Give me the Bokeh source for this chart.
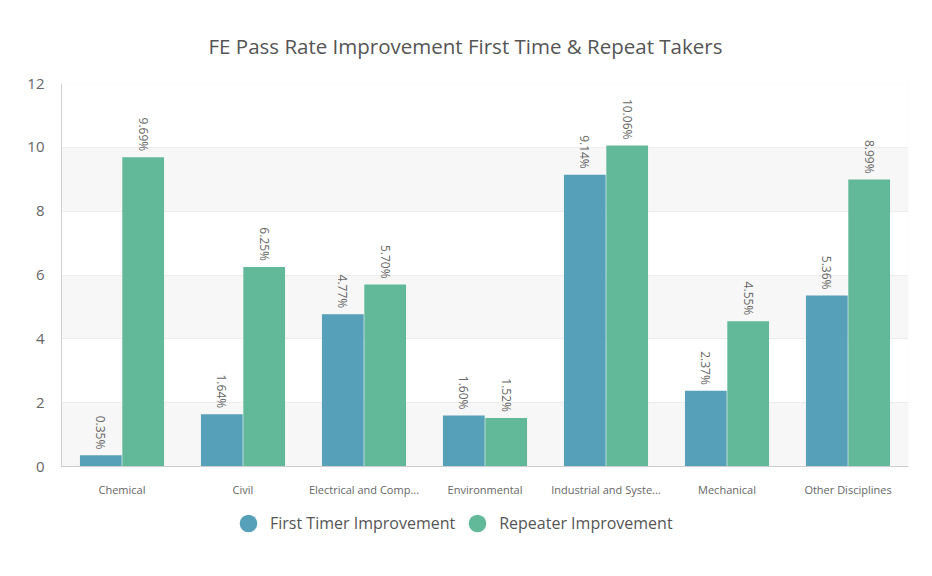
from bokeh.plotting import figure
from bokeh.models import ColumnDataSource, FactorRange, Range1d, Legend, LegendItem, FixedTicker
from bokeh.layouts import column
from bokeh.transform import dodge
from bokeh.core.properties import value
from bokeh.embed import file_html
from bokeh.resources import INLINE
import math

categories = ["Chemical", "Civil", "Electrical and Comp...", "Environmental",
              "Industrial and Syste...", "Mechanical", "Other Disciplines"]
first_timer = [0.35, 1.64, 4.77, 1.60, 9.14, 2.37, 5.36]
repeater = [9.69, 6.25, 5.70, 1.52, 10.06, 4.55, 8.99]
y_ticks = [0, 2, 4, 6, 8, 10, 12]
series_names = ["First Timer Improvement", "Repeater Improvement"]
colors = ["#56a0b9", "#62b99a"]

FONT = "Open Sans"

src = ColumnDataSource(dict(
    cat=categories,
    first=first_timer,
    rep=repeater,
    first_lbl=["%.2f%%" % v for v in first_timer],
    rep_lbl=["%.2f%%" % v for v in repeater],
))

p = figure(x_range=FactorRange(*categories), y_range=Range1d(0, 12),
           frame_width=847, frame_height=383, output_backend="svg", toolbar_location=None,
           title="FE Pass Rate Improvement First Time & Repeat Takers",
           min_border_left=61, min_border_right=24, min_border_top=83,
           min_border_bottom=40)

p.title.align = "left"
p.title.text_font = FONT
p.title.text_font_size = "20.5px"
p.title.text_font_style = "normal"
p.title.text_color = "#555555"
p.title.standoff = 48
p.title.offset = 147

p.background_fill_color = "#f7f7f7"
p.outline_line_color = None
p.xgrid.grid_line_color = None
p.ygrid.grid_line_color = "#ececec"
p.ygrid.band_fill_color = "white"
p.ygrid.band_fill_alpha = 1.0

p.yaxis.ticker = FixedTicker(ticks=y_ticks)
p.yaxis.major_tick_line_color = None
p.yaxis.minor_tick_line_color = None
p.yaxis.major_tick_out = 0
p.yaxis.minor_tick_out = 0
p.yaxis.axis_line_color = "#d0d0d0"
p.yaxis.major_label_text_font = FONT
p.yaxis.major_label_text_font_size = "15px"
p.yaxis.major_label_text_color = "#666666"
p.yaxis.major_label_standoff = 17

p.xaxis.major_tick_line_color = None
p.xaxis.minor_tick_line_color = None
p.xaxis.major_tick_out = 0
p.xaxis.minor_tick_out = 0
p.xaxis.axis_line_color = "#cccccc"
p.xaxis.major_label_text_font = FONT
p.xaxis.major_label_text_font_size = "11px"
p.xaxis.major_label_text_color = "#666666"
p.xaxis.major_label_standoff = 15

w = 0.345
p.vbar(x=dodge("cat", -0.175, range=p.x_range), top="first", width=w, source=src,
       fill_color=colors[0], line_color=None)
p.vbar(x=dodge("cat", 0.175, range=p.x_range), top="rep", width=w, source=src,
       fill_color=colors[1], line_color=None)

for col, lbl, off in [("first", "first_lbl", -0.175), ("rep", "rep_lbl", 0.175)]:
    p.text(x=dodge("cat", off, range=p.x_range), y=col, text=lbl, source=src,
           angle=-math.pi / 2, text_align="right", text_baseline="middle",
           y_offset=-6, text_font=value(FONT), text_font_size="12px",
           text_color="#666666")

# legend-only strip below the chart
lf = figure(width=932, height=60, output_backend="svg", toolbar_location=None,
            x_range=Range1d(0, 1), y_range=Range1d(0, 1),
            min_border_left=0, min_border_right=0, min_border_top=0, min_border_bottom=0)
lf.axis.visible = False
lf.grid.visible = False
lf.outline_line_color = None
leg_src = ColumnDataSource(dict(x=[float("nan")], y=[float("nan")]))
r1 = lf.scatter(x="x", y="y", source=leg_src, size=17, marker="circle",
                fill_color=colors[0], line_color=None)
r2 = lf.scatter(x="x", y="y", source=leg_src, size=17, marker="circle",
                fill_color=colors[1], line_color=None)
legend = Legend(items=[LegendItem(label=series_names[0], renderers=[r1]),
                       LegendItem(label=series_names[1], renderers=[r2])],
                orientation="horizontal", location=(165, 21),
                label_text_font=FONT, label_text_font_size="16px",
                label_text_color="#555555", border_line_color=None,
                background_fill_alpha=0, glyph_width=44, glyph_height=44,
                spacing=0, label_standoff=0, margin=0, padding=0)
lf.add_layout(legend, "center")

layout = column(p, lf, spacing=0)

open("out.html", "w").write(file_html(layout, INLINE))
